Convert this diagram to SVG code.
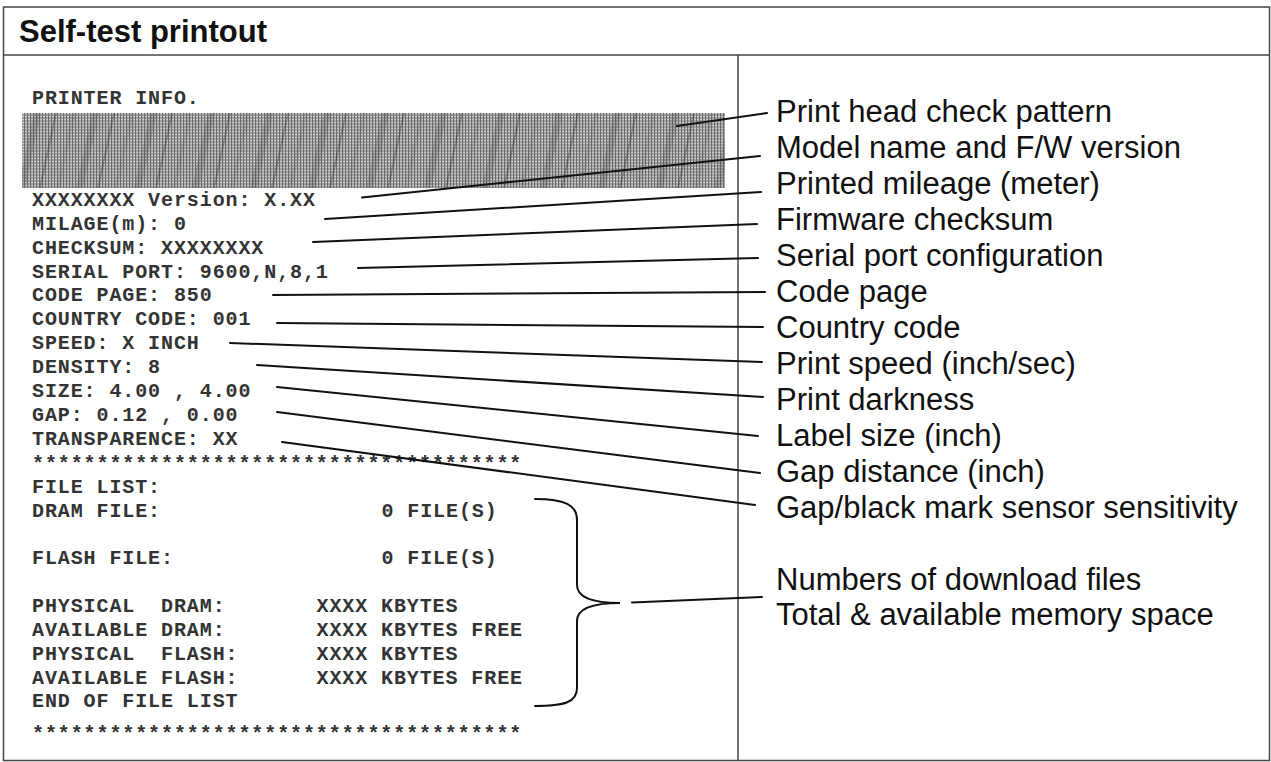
<svg xmlns="http://www.w3.org/2000/svg" width="1271" height="762" viewBox="0 0 1271 762">
<style>
.pt{font-family:"Liberation Mono","DejaVu Sans Mono",monospace;font-weight:bold;font-size:20px;letter-spacing:0.9px;fill:#333;white-space:pre}
.lb{font-family:"Liberation Sans",Arial,sans-serif;font-size:31px;fill:#111}
.ttl{font-family:"Liberation Sans",Arial,sans-serif;font-size:31px;font-weight:bold;fill:#111}
.ld{stroke:#111;stroke-width:2;fill:none;stroke-linecap:round}
.frm{stroke:#444;stroke-width:1.5;fill:none}
</style>
<defs>
<pattern id="dots" width="3" height="3" patternUnits="userSpaceOnUse">
<rect width="3" height="3" fill="#a6a6a6"/>
<rect x="0" width="1.2" height="3" fill="#6a6a6a"/>
<rect x="1.2" y="2" width="1.8" height="1" fill="#d0d0d0"/>
</pattern>
<pattern id="slant" width="58" height="76" patternUnits="userSpaceOnUse" patternTransform="skewX(-12)">
<rect x="0" width="7" height="76" fill="#444" opacity="0.22"/>
<rect x="21" width="2" height="76" fill="#222" opacity="0.3"/>
<rect x="38" width="4" height="76" fill="#555" opacity="0.15"/>
</pattern>
</defs>
<rect width="1271" height="762" fill="#fff"/>
<g id="frame">
<rect class="frm" x="3.5" y="7" width="1266" height="753.5"/>
<line class="frm" x1="3.5" y1="55" x2="1269.5" y2="55"/>
<line class="frm" x1="738" y1="55" x2="738" y2="760.5"/>
</g>
<g id="header">
<text class="ttl" x="19" y="42">Self-test printout</text>
</g>
<g id="printout">
<text class="pt" x="32" y="104">PRINTER INFO.</text>
<g id="check-pattern">
<rect x="22" y="113" width="703" height="75" fill="url(#dots)"/>
<rect x="22" y="113" width="703" height="75" fill="url(#slant)"/>
</g>
<text class="pt" x="32" y="206">XXXXXXXX Version: X.XX</text>
<text class="pt" x="32" y="229.5">MILAGE(m): 0</text>
<text class="pt" x="32" y="253.5">CHECKSUM: XXXXXXXX</text>
<text class="pt" x="32" y="277.5">SERIAL PORT: 9600,N,8,1</text>
<text class="pt" x="32" y="301">CODE PAGE: 850</text>
<text class="pt" x="32" y="325">COUNTRY CODE: 001</text>
<text class="pt" x="32" y="349">SPEED: X INCH</text>
<text class="pt" x="32" y="373">DENSITY: 8</text>
<text class="pt" x="32" y="397">SIZE: 4.00 , 4.00</text>
<text class="pt" x="32" y="421">GAP: 0.12 , 0.00</text>
<text class="pt" x="32" y="445">TRANSPARENCE: XX</text>
<text class="pt" x="32" y="470">**************************************</text>
<text class="pt" x="32" y="493">FILE LIST:</text>
<text class="pt" x="32" y="517">DRAM FILE:</text>
<text class="pt" x="381.5" y="517">0 FILE(S)</text>
<text class="pt" x="32" y="564">FLASH FILE:</text>
<text class="pt" x="381.5" y="564">0 FILE(S)</text>
<text class="pt" x="32" y="611.5">PHYSICAL  DRAM:</text>
<text class="pt" x="316.5" y="611.5">XXXX KBYTES</text>
<text class="pt" x="32" y="635.5">AVAILABLE DRAM:</text>
<text class="pt" x="316.5" y="635.5">XXXX KBYTES FREE</text>
<text class="pt" x="32" y="659.5">PHYSICAL  FLASH:</text>
<text class="pt" x="316.5" y="659.5">XXXX KBYTES</text>
<text class="pt" x="32" y="683.5">AVAILABLE FLASH:</text>
<text class="pt" x="316.5" y="683.5">XXXX KBYTES FREE</text>
<text class="pt" x="32" y="707">END OF FILE LIST</text>
<text class="pt" x="32" y="740">**************************************</text>
</g>
<g id="labels">
<text class="lb" x="776" y="121.5">Print head check pattern</text>
<text class="lb" x="776" y="157.5">Model name and F/W version</text>
<text class="lb" x="776" y="193.5">Printed mileage (meter)</text>
<text class="lb" x="776" y="229.5">Firmware checksum</text>
<text class="lb" x="776" y="265.5">Serial port configuration</text>
<text class="lb" x="776" y="301.5">Code page</text>
<text class="lb" x="776" y="337.5">Country code</text>
<text class="lb" x="776" y="373.5">Print speed (inch/sec)</text>
<text class="lb" x="776" y="409.5">Print darkness</text>
<text class="lb" x="776" y="445.5">Label size (inch)</text>
<text class="lb" x="776" y="481.5">Gap distance (inch)</text>
<text class="lb" x="776" y="517.5">Gap/black mark sensor sensitivity</text>
<text class="lb" x="776" y="590">Numbers of download files</text>
<text class="lb" x="776" y="625">Total &amp; available memory space</text>
</g>
<g id="connectors">
<line class="ld" x1="677" y1="126" x2="767" y2="113"/>
<line class="ld" x1="362" y1="197.5" x2="760" y2="156"/>
<line class="ld" x1="325" y1="219" x2="761" y2="192"/>
<line class="ld" x1="313" y1="242" x2="757" y2="224"/>
<line class="ld" x1="358" y1="268" x2="758" y2="258"/>
<line class="ld" x1="273" y1="295" x2="765" y2="292"/>
<line class="ld" x1="277" y1="323" x2="763" y2="327"/>
<line class="ld" x1="230" y1="343" x2="762" y2="362"/>
<line class="ld" x1="257" y1="365" x2="763" y2="397"/>
<line class="ld" x1="277" y1="387" x2="758" y2="436"/>
<line class="ld" x1="277" y1="412" x2="760" y2="473"/>
<line class="ld" x1="282" y1="442" x2="755" y2="505"/>
<path class="ld" d="M535,499 C565,499 577,505 577,520 L577,585 C577,597 590,603 620,603 C590,603 577,609 577,621 L577,688 C577,702 565,706 535,706"/>
<line class="ld" x1="632" y1="602.5" x2="762" y2="597"/>
</g>
</svg>
